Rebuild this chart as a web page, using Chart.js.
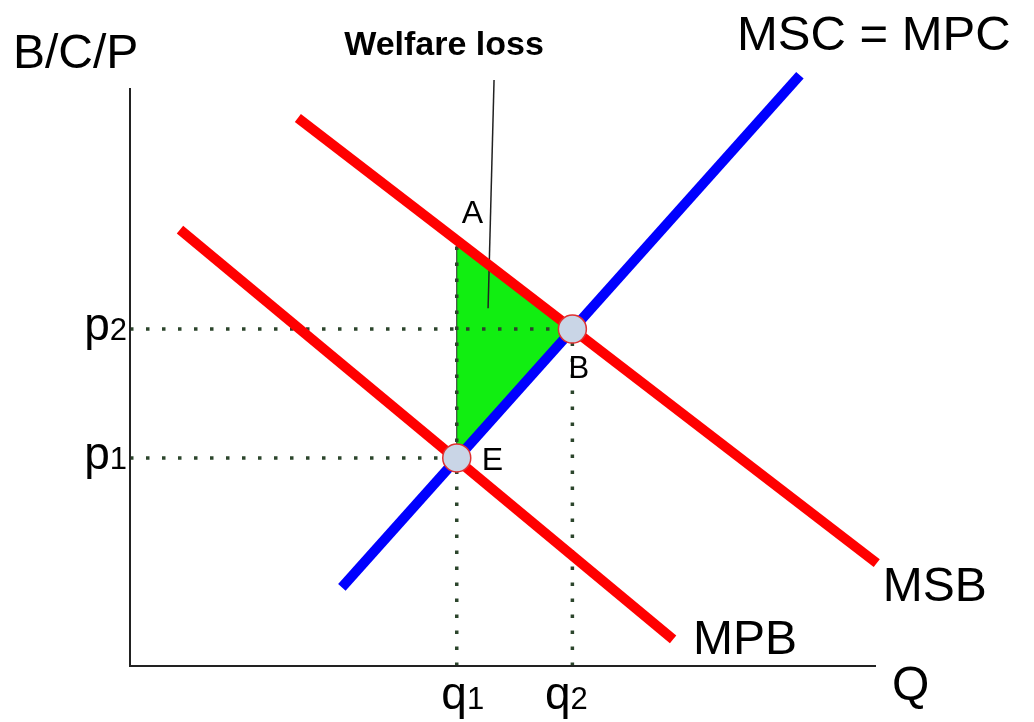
<!DOCTYPE html>
<html>
<head>
<meta charset="utf-8">
<script src="https://cdn.jsdelivr.net/npm/chart.js@4.4.0/dist/chart.umd.min.js"></script>
<style>
  body { margin: 0; background: #fff; }
  canvas { display: block; }
</style>
</head>
<body>
<canvas id="welfareChart" width="1034" height="722"></canvas>
<script>
// curve end points (quantity, price)
const msbQ = [22.5, 100.1];
const msbP = [94.8, 17.8];
const mpbQ = [6.7, 72.8];
const mpbP = [75.5, 4.6];
const mscQ = [28.4, 89.8];
const mscP = [13.6, 102.2];

// key points
const pointNames = ["A", "B", "E"];
const pointQ = [43.8, 59.3, 43.8];
const pointP = [73.7, 58.3, 36];

// axis tick positions and labels
const qTicks = [43.8, 59.3];
const qTickLabels = [["q", "1"], ["q", "2"]];
const pTicks = [36, 58.3];
const pTickLabels = [["p", "1"], ["p", "2"]];

// welfare loss pointer line
const pointerQ = [48.8, 48.0];
const pointerP = [101.4, 61.9];

const FONT = '"Liberation Sans", Arial, Helvetica, sans-serif';

function toXY(qs, ps) {
  return qs.map((q, i) => ({ x: q, y: ps[i] }));
}

// triangle A -> B -> E -> A
const triangle = [0, 1, 2, 0].map(i => ({ x: pointQ[i], y: pointP[i] }));

// dotted guide lines from the axes
const guides = [];
pTicks.forEach((p, i) => guides.push([{ x: 0, y: p }, { x: qTicks[i], y: p }]));
guides.push([{ x: qTicks[0], y: 0 }, { x: pointQ[0], y: pointP[0] }]);
guides.push([{ x: qTicks[1], y: 0 }, { x: pointQ[1], y: pointP[1] }]);

const guideSets = guides.map(g => ({
  data: g,
  showLine: true,
  borderColor: "#2c452c",
  borderWidth: 3.5,
  borderDash: [3.5, 12.5],
  pointRadius: 0,
  clip: false,
  order: 3
}));

function curve(qs, ps, color) {
  return {
    data: toXY(qs, ps),
    showLine: true,
    borderColor: color,
    borderWidth: 10,
    borderCapStyle: "butt",
    pointRadius: 0,
    clip: false,
    order: 1
  };
}

// axes and text labels
const labelsPlugin = {
  id: "labels",
  afterDraw(chart) {
    const c = chart.ctx;
    const area = chart.chartArea;
    const xs = chart.scales.x;
    const ys = chart.scales.y;
    c.save();

    // axis lines
    c.strokeStyle = "#222";
    c.lineWidth = 2;
    c.beginPath();
    c.moveTo(area.left, area.top);
    c.lineTo(area.left, area.bottom);
    c.lineTo(area.right, area.bottom);
    c.stroke();

    c.fillStyle = "#000";
    c.textBaseline = "alphabetic";

    function text(str, x, y, size, weight, align) {
      c.font = (weight || "normal") + " " + size + "px " + FONT;
      c.textAlign = align || "left";
      c.fillText(str, x, y);
    }

    text("B/C/P", 13, 68, 48);
    text("MSC = MPC", 737, 50, 49);
    text("Welfare loss", 444, 55, 34, "bold", "center");
    text("Q", area.right + 16, area.bottom + 34, 48);

    // curve names near their lower ends
    text("MSB", xs.getPixelForValue(msbQ[1]) + 6, ys.getPixelForValue(msbP[1]) + 38, 48);
    text("MPB", xs.getPixelForValue(mpbQ[1]) + 20, ys.getPixelForValue(mpbP[1]) + 15, 48);

    // point names
    const offsets = { A: [5, -17, 32], B: [-4, 49, 31], E: [25, 12, 32] };
    pointNames.forEach((n, i) => {
      const o = offsets[n];
      text(n, xs.getPixelForValue(pointQ[i]) + o[0], ys.getPixelForValue(pointP[i]) + o[1], o[2]);
    });

    // tick labels with small subscripts
    function subLabel(parts, x, y, align) {
      c.font = "46px " + FONT;
      const w1 = c.measureText(parts[0]).width;
      c.font = "31px " + FONT;
      const w2 = c.measureText(parts[1]).width;
      let left = align === "right" ? x - w1 - w2 : x - (w1 + w2) / 2;
      text(parts[0], left, y, 46);
      text(parts[1], left + w1, y, 31);
    }
    pTicks.forEach((p, i) => subLabel(pTickLabels[i], area.left - 3, ys.getPixelForValue(p) + 11, "right"));
    const qShift = [6, -6];
    qTicks.forEach((q, i) => subLabel(qTickLabels[i], xs.getPixelForValue(q) + qShift[i], area.bottom + 43, "center"));

    c.restore();
  }
};

new Chart(document.getElementById("welfareChart"), {
  type: "scatter",
  data: {
    datasets: [
      {
        // E and B markers
        data: toXY(pointQ, pointP),
        pointRadius: pointNames.map(n => (n === "A" ? 0 : 14)),
        pointBackgroundColor: "#c9d5e6",
        pointBorderColor: "#e03030",
        pointBorderWidth: 1.5,
        clip: false,
        order: 0
      },
      curve(msbQ, msbP, "#ff0000"),
      curve(mpbQ, mpbP, "#ff0000"),
      curve(mscQ, mscP, "#0000ff"),
      {
        data: toXY(pointerQ, pointerP),
        showLine: true,
        borderColor: "#222",
        borderWidth: 1.5,
        pointRadius: 0,
        clip: false,
        order: 2
      },
      ...guideSets,
      {
        data: triangle,
        showLine: true,
        fill: "shape",
        backgroundColor: "#11ee11",
        borderColor: "#2a2a2a",
        borderWidth: 1,
        pointRadius: 0,
        order: 4
      }
    ]
  },
  options: {
    responsive: false,
    animation: false,
    layout: { padding: { left: 130, right: 158, top: 88, bottom: 56 } },
    plugins: { legend: { display: false }, tooltip: { enabled: false } },
    scales: {
      x: { type: "linear", min: 0, max: 100, display: false },
      y: { type: "linear", min: 0, max: 100, display: false }
    }
  },
  plugins: [labelsPlugin]
});
</script>
</body>
</html>
